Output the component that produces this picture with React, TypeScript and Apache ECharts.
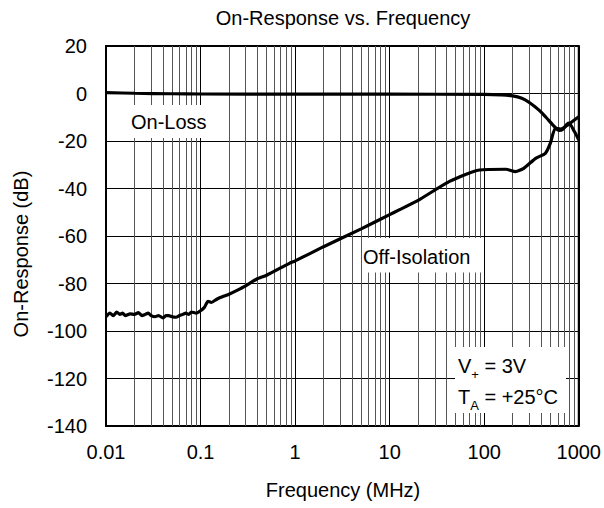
import React, { useEffect, useRef } from "react";
import * as echarts from "echarts";

const title = "On-Response vs. Frequency";
const xName = "Frequency (MHz)";
const yName = "On-Response (dB)";

const onLossFreq = [0.01, 0.02, 0.05, 0.1, 1, 10, 100, 150, 200, 250, 300, 380, 450, 540, 620, 680, 780, 900, 1000];
const onLossDb = [0.4, 0.1, -0.1, -0.2, -0.3, -0.3, -0.4, -0.6, -1, -2, -3.8, -7, -10, -13.5, -15.5, -15, -12.5, -16, -19.6];

const isoFreq = [
  0.01, 0.011, 0.012, 0.013, 0.014, 0.015, 0.016, 0.018, 0.02, 0.022, 0.024, 0.026, 0.028, 0.03, 0.033,
  0.036, 0.04, 0.043, 0.046, 0.05, 0.055, 0.06, 0.065, 0.07, 0.075, 0.08, 0.09, 0.1, 0.11, 0.12, 0.13,
  0.15, 0.2, 0.24, 0.3, 0.39, 0.5, 0.87, 1, 2, 5, 10, 12.6, 20, 43, 89, 170, 214, 262, 350, 443, 500,
  565, 645, 760, 1000,
];
const isoDb = [
  -94, -92.5, -93.5, -92, -93, -92.5, -93.5, -92.8, -93, -92.3, -93.5, -93, -92.5, -93.5, -94,
  -93.5, -94.5, -93.5, -93.5, -94, -94.2, -93.5, -93, -92.5, -93, -92, -92.5, -91.5, -90, -87.5, -88,
  -86.5, -84.5, -83, -81, -78.2, -76.5, -71.5, -70.5, -64.5, -57, -51, -49, -45, -37, -32.2, -31.9, -32.9, -31.5, -27.3, -25.2, -21,
  -14.7, -15, -13.3, -9.8,
];

const minorFreqs: number[] = [];
[0.01, 0.1, 1, 10, 100].forEach((d) => {
  for (let k = 2; k <= 9; k++) minorFreqs.push(+(d * k).toPrecision(3));
});

const font = "Liberation Sans, Arial, sans-serif";
const FS = 20;

export default function App() {
  const ref = useRef<HTMLDivElement>(null);
  useEffect(() => {
    document.body.style.margin = "0";
    const chart = echarts.init(ref.current!, null, { renderer: "svg" });
    chart.setOption({
      animation: false,
      textStyle: { fontFamily: font, color: "#000" },
      grid: { left: 106, top: 46, right: 24, bottom: 82, show: true, borderColor: "#000", borderWidth: 2, backgroundColor: "#fff" },
      xAxis: {
        type: "log",
        logBase: 10,
        min: 0.01,
        max: 1000,
        axisLine: { show: false },
        axisTick: { show: false },
        axisLabel: {
          fontSize: FS,
          color: "#000",
          margin: 16,
          fontFamily: font,
          formatter: (v: number) => (v < 1 ? String(+v.toPrecision(2)) : String(Math.round(v))),
        },
        splitLine: { show: true, lineStyle: { color: "#000", width: 1 } },
      },
      yAxis: {
        type: "value",
        min: -140,
        max: 20,
        interval: 20,
        axisLine: { show: false },
        axisTick: { show: false },
        axisLabel: { fontSize: FS, color: "#000", margin: 19, fontFamily: font },
        splitLine: { show: true, lineStyle: { color: "#000", width: 1 } },
      },
      series: [
        {
          type: "line",
          data: [],
          z: 1,
          silent: true,
          markLine: {
            silent: true,
            symbol: ["none", "none"],
            label: { show: false },
            lineStyle: { color: "#555", width: 1, type: "solid" },
            emphasis: { disabled: true },
            data: minorFreqs.map((f) => ({ xAxis: f })),
          },
        },
        {
          type: "line",
          name: "On-Loss",
          data: onLossFreq.map((f, i) => [f, onLossDb[i]]),
          showSymbol: false,
          smooth: 0.3,
          lineStyle: { color: "#000", width: 3.2 },
          z: 5,
        },
        {
          type: "line",
          name: "Off-Isolation",
          data: isoFreq.map((f, i) => [f, isoDb[i]]),
          showSymbol: false,
          smooth: 0.2,
          lineStyle: { color: "#000", width: 3.2 },
          z: 5,
        },
      ],
      graphic: [
        {
          type: "text",
          x: 343,
          y: 18,
          z: 100,
          style: { text: title, fontSize: FS, fontFamily: font, fill: "#000", align: "center", verticalAlign: "middle" },
        },
        {
          type: "text",
          x: 343,
          y: 490,
          z: 100,
          style: { text: xName, fontSize: FS, fontFamily: font, fill: "#000", align: "center", verticalAlign: "middle" },
        },
        {
          type: "text",
          x: 21,
          y: 254,
          rotation: Math.PI / 2,
          z: 100,
          style: { text: yName, fontSize: FS, fontFamily: font, fill: "#000", align: "center", verticalAlign: "middle" },
        },
        { type: "rect", z: 100, shape: { x: 116, y: 105, width: 100, height: 33 }, style: { fill: "#fff" } },
        {
          type: "text",
          x: 131,
          y: 121.5,
          z: 101,
          style: { text: "On-Loss", fontSize: FS, fontFamily: font, fill: "#000", align: "left", verticalAlign: "middle" },
        },
        { type: "rect", z: 100, shape: { x: 362.5, y: 238, width: 119.5, height: 34.5 }, style: { fill: "#fff" } },
        {
          type: "text",
          x: 363,
          y: 256.5,
          z: 101,
          style: { text: "Off-Isolation", fontSize: FS, fontFamily: font, fill: "#000", align: "left", verticalAlign: "middle" },
        },
        { type: "rect", z: 100, shape: { x: 455, y: 347, width: 111, height: 66 }, style: { fill: "#fff" } },
        {
          type: "text",
          x: 458,
          y: 345,
          z: 101,
          style: {
            text: "{m|V}{s|+}{m| = 3V}\n{m|T}{s|A}{m| = +25°C}",
            fontFamily: font,
            fill: "#000",
            align: "left",
            verticalAlign: "top",
            rich: {
              m: { fontSize: FS, fontFamily: font, fill: "#000", lineHeight: 31, verticalAlign: "bottom" },
              s: { fontSize: 13, fontFamily: font, fill: "#000", lineHeight: 31, verticalAlign: "bottom", padding: [0, 0, -5, 0] },
            },
          },
        },
      ],
    });
    return () => chart.dispose();
  }, []);
  return <div ref={ref} style={{ width: 604, height: 508 }} />;
}
